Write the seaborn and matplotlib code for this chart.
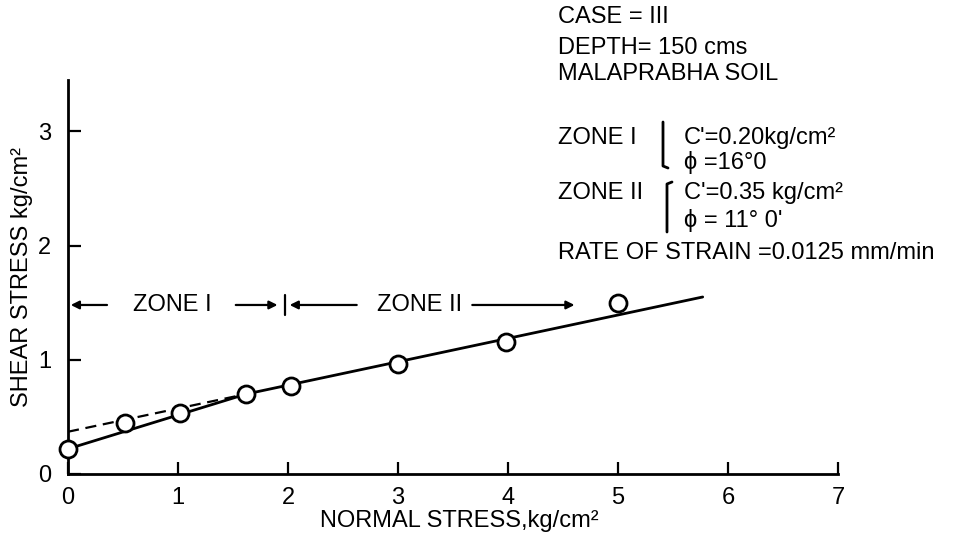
import numpy as np
import matplotlib
matplotlib.use("Agg")
import matplotlib.pyplot as plt
import seaborn as sns
import pandas as pd

# test points
normal_stress = [0.0, 0.52, 1.02, 1.62, 2.03, 3.0, 3.98, 5.0]
shear_stress = [0.22, 0.45, 0.53, 0.70, 0.77, 0.96, 1.16, 1.50]

# failure envelopes
zone1_x = [0.0, 1.62]
zone1_y = [0.22, 0.70]
zone2_x = [1.62, 5.77]
zone2_y = [0.70, 1.55]
zone2_ext_x = [0.0, 1.62]
zone2_ext_y = [0.37, 0.70]

x_ticks = [0, 1, 2, 3, 4, 5, 6, 7]
y_ticks = [0, 1, 2, 3]

sns.set_style("ticks")
plt.rcParams['font.family'] = ['Liberation Sans', 'DejaVu Sans']
plt.rcParams['text.color'] = 'k'
plt.rcParams['axes.labelcolor'] = 'k'
FS = 17

fig = plt.figure(figsize=(9.55, 5.37), dpi=100)
ax = fig.add_axes([68/955, 1-474/537, 770/955, 394/537])

df = pd.DataFrame({"x": normal_stress, "y": shear_stress})

sns.lineplot(x=zone1_x, y=zone1_y, ax=ax, color='k', lw=2, sort=False)
sns.lineplot(x=zone2_x, y=zone2_y, ax=ax, color='k', lw=2, sort=False)
sns.lineplot(x=zone2_ext_x, y=zone2_ext_y, ax=ax, color='k', lw=1.6, sort=False,
             dashes=False, linestyle=(0, (5, 3)))
sns.scatterplot(data=df, x="x", y="y", ax=ax, s=150, facecolor='white',
                edgecolor='k', linewidth=2, zorder=5, clip_on=False)

ax.set_xlim(0, 7)
ax.set_ylim(0, 3.45)
ax.set_xticks(x_ticks)
ax.set_yticks(y_ticks)
ax.tick_params(direction='in', length=9, width=1.6, labelsize=FS, colors='k')
ax.tick_params(axis='y', pad=12)
ax.tick_params(axis='x', pad=9)
sns.despine(ax=ax)
for s in ['left', 'bottom']:
    ax.spines[s].set_linewidth(2)
    ax.spines[s].set_color('k')
ax.set_xlabel("NORMAL STRESS,kg/cm²", fontsize=FS)
ax.xaxis.set_label_coords(0.508, -0.092)
ax.set_ylabel("SHEAR STRESS kg/cm²", fontsize=FS, labelpad=4)

# zone arrows
yz = 1.48
ap = dict(arrowstyle='-|>', color='k', lw=1.6, mutation_scale=12)
ax.annotate('', xy=(0.0, yz), xytext=(0.38, yz), arrowprops=ap)
ax.text(0.95, yz, "ZONE I", fontsize=FS, ha='center', va='center')
ax.annotate('', xy=(1.93, yz), xytext=(1.50, yz), arrowprops=ap)
ax.plot([1.97, 1.97], [yz - 0.09, yz + 0.09], color='k', lw=1.6)
ax.annotate('', xy=(1.99, yz), xytext=(2.65, yz), arrowprops=ap)
ax.text(3.2, yz, "ZONE II", fontsize=FS, ha='center', va='center')
ax.annotate('', xy=(4.63, yz), xytext=(3.65, yz), arrowprops=ap)

# notes block
def fx(px):
    return px / 955

def fy(py):
    return 1 - py / 537

notes = [(558, 17, "CASE = III"), (558, 48, "DEPTH= 150 cms"),
         (558, 74, "MALAPRABHA SOIL"), (558, 138, "ZONE I"),
         (684, 138, "C'=0.20kg/cm²"), (684, 162, "ϕ =16°0"),
         (558, 193, "ZONE II"), (684, 193, "C'=0.35 kg/cm²"),
         (684, 220, "ϕ = 11° 0'"), (558, 253, "RATE OF STRAIN =0.0125 mm/min")]
for px, py, t in notes:
    fig.text(fx(px), fy(py), t, fontsize=FS, ha='left', va='center')

fig.add_artist(plt.Line2D([fx(663), fx(663), fx(668)], [fy(122), fy(166), fy(168)],
                          color='k', lw=2))
fig.add_artist(plt.Line2D([fx(672), fx(667), fx(667)], [fy(182), fy(184), fy(232)],
                          color='k', lw=2))

plt.savefig("out.png", dpi=100)
